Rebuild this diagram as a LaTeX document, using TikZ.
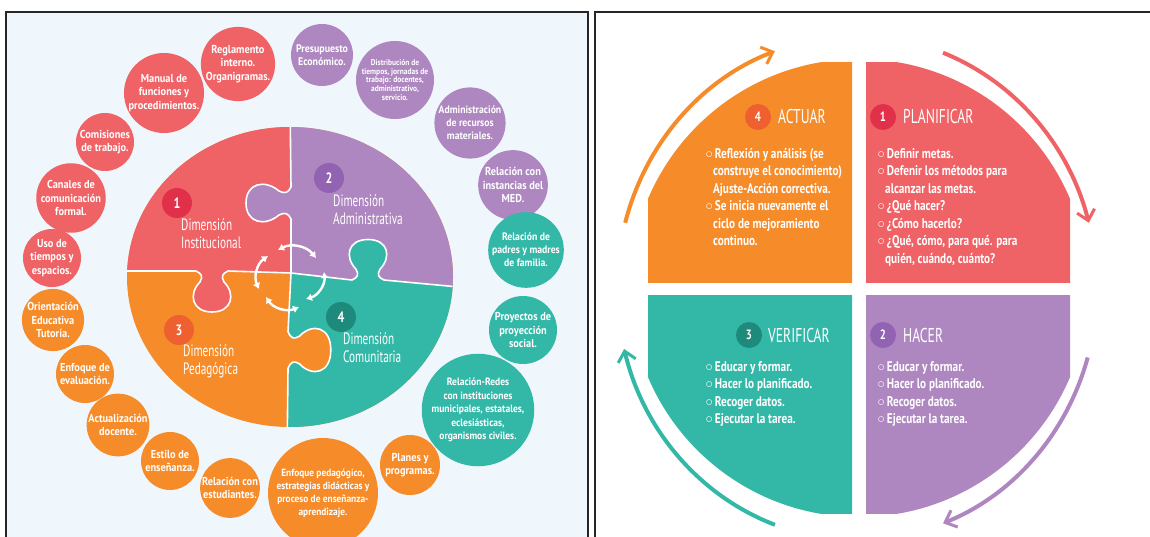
\documentclass[tikz,border=0pt]{standalone}
\usepackage{fontspec}
\setmainfont{PT Sans}[FakeStretch=0.8]
\newfontfamily\satf{PT Sans}[FakeStretch=0.9]
\newfontfamily\condf{PT Sans}[FakeStretch=0.68]
\newfontfamily\dejavu{DejaVu Sans}
\usetikzlibrary{arrows.meta,calc}
\definecolor{redC}{HTML}{EF6266}
\definecolor{purC}{HTML}{AE86C0}
\definecolor{oraC}{HTML}{F68B29}
\definecolor{teaC}{HTML}{33B8A8}
\definecolor{bgC}{HTML}{EFF6FC}
\definecolor{nA}{HTML}{E0304A}
\definecolor{nB}{HTML}{9263B2}
\definecolor{nC}{HTML}{EE6030}
\definecolor{nD}{HTML}{1E8A7B}
\newcommand{\bul}{\raisebox{-2.2pt}{\dejavu\bfseries\fontsize{16}{16}\selectfont\char"25E6}\hspace{0.5pt}}
\newcommand{\ind}{\hspace*{9pt}}
\tikzset{
  sat/.style={circle, inner sep=0pt, align=center, text=white, font=\satf\bfseries\fontsize{11.5}{13.3}\selectfont},
  numL/.style={circle, minimum size=30pt, inner sep=0pt, text=white, font=\bfseries\fontsize{15}{15}\selectfont},
  dimlab/.style={anchor=north west, inner sep=0pt, align=left, text=white, font=\condf\fontsize{16.5}{18.5}\selectfont},
  numR/.style={circle, minimum size=26pt, inner sep=0pt, text=white, font=\bfseries\fontsize{13.5}{13.5}\selectfont},
  ttl/.style={anchor=west, inner sep=0pt, text=white, font=\condf\fontsize{20}{20}\selectfont},
  blist/.style={anchor=north west, inner sep=0pt, align=left, text=white, font=\bfseries\fontsize{14}{17.5}\selectfont},
  cyc/.style={line width=4pt, -{Straight Barb[length=10pt,width=18pt,line width=3pt]}},
  dbl/.style={white, line width=2.4pt, {Latex[length=6pt,width=8pt]}-{Latex[length=6pt,width=8pt]}},
  edge/.style={white, line width=1.6pt}
}
\begin{document}
\begin{tikzpicture}[x=1pt,y=-1pt]
\useasboundingbox (0,0) rectangle (1150,537);
% ---------- left panel ----------
\fill[bgC] (6,12) rectangle (588,540);
\draw[line width=1.8pt, black!85] (6,545) -- (6,12) -- (588,12) -- (588,545);
\begin{scope}
\clip (290,277) ellipse [x radius=163pt, y radius=150pt];
\fill[oraC] (100,100) rectangle (480,460);
\fill[redC] (291,273) -- (291,219) .. controls (288,213) and (285,212) .. (279,215) .. controls (265,227) and (246,223) .. (246,203) .. controls (246,183) and (265,179) .. (279,191) .. controls (285,194) and (288,193) .. (291,187) -- (290,100) -- (100,100) -- (100,271) -- (196,271) .. controls (202,274) and (203,276) .. (200,282) .. controls (188,294) and (192,312) .. (212,312) .. controls (232,312) and (236,294) .. (224,282) .. controls (221,276) and (222,274) .. (228,271) -- cycle;
\fill[purC] (291,273) -- (291,219) .. controls (288,213) and (285,212) .. (279,215) .. controls (265,227) and (246,223) .. (246,203) .. controls (246,183) and (265,179) .. (279,191) .. controls (285,194) and (288,193) .. (291,187) -- (290,100) -- (480,100) -- (480,289) -- (384,280) .. controls (378,277.3) and (377,274.6) .. (380,269.2) .. controls (392,256.6) and (388,239.5) .. (368,239.5) .. controls (348,239.5) and (344,256.6) .. (356,269.2) .. controls (359,274.6) and (358,277.3) .. (352,280) -- cycle;
\fill[teaC] (291,273) -- (352,280) .. controls (358,277.3) and (359,274.6) .. (356,269.2) .. controls (344,256.6) and (348,239.5) .. (368,239.5) .. controls (388,239.5) and (392,256.6) .. (380,269.2) .. controls (377,274.6) and (378,277.3) .. (384,280) -- (480,289) -- (480,460) -- (287,460) -- (288,368.4) .. controls (290.9,361.5) and (293.7,360.4) .. (299.4,363.8) .. controls (312.7,377.6) and (330.8,373) .. (330.8,350) .. controls (330.8,327) and (312.7,322.4) .. (299.4,336.2) .. controls (293.7,339.6) and (290.9,338.5) .. (288,331.6) -- cycle;
\draw[edge] (291,273) -- (291,219) .. controls (288,213) and (285,212) .. (279,215) .. controls (265,227) and (246,223) .. (246,203) .. controls (246,183) and (265,179) .. (279,191) .. controls (285,194) and (288,193) .. (291,187) -- (290,100);
\draw[edge] (100,271) -- (196,271) .. controls (202,274) and (203,276) .. (200,282) .. controls (188,294) and (192,312) .. (212,312) .. controls (232,312) and (236,294) .. (224,282) .. controls (221,276) and (222,274) .. (228,271) -- (291,273);
\draw[edge] (291,273) -- (352,280) .. controls (358,277.3) and (359,274.6) .. (356,269.2) .. controls (344,256.6) and (348,239.5) .. (368,239.5) .. controls (388,239.5) and (392,256.6) .. (380,269.2) .. controls (377,274.6) and (378,277.3) .. (384,280) -- (480,289);
\draw[edge] (291,273) -- (288,331.6) .. controls (290.9,338.5) and (293.7,339.6) .. (299.4,336.2) .. controls (312.7,322.4) and (330.8,327) .. (330.8,350) .. controls (330.8,373) and (312.7,377.6) .. (299.4,363.8) .. controls (293.7,360.4) and (290.9,361.5) .. (288,368.4) -- (287,460);
\end{scope}
% center double arrows
\coordinate (a1) at (278,250); \coordinate (b1) at (316,258);
\coordinate (a2) at (268,256); \coordinate (b2) at (259,289);
\coordinate (a3) at (266,297); \coordinate (b3) at (299,307);
\coordinate (a4) at (324,272); \coordinate (b4) at (306,299);
\draw[dbl] (a1) to[bend left=40] (b1);
\draw[dbl] (a2) to[bend right=40] (b2);
\draw[dbl] (a3) to[bend right=40] (b3);
\draw[dbl] (a4) to[bend left=40] (b4);
% numbers and labels
\node[numL, fill=nA] (n1) at (177,203) {1};
\node[numL, fill=nB] (n2) at (329,178) {2};
\node[numL, fill=nC] (n3) at (179,330) {3};
\node[numL, fill=nD] (n4) at (341,317) {4};
\node[dimlab] (d1) at (181,218) {Dimensión\\Institucional};
\node[dimlab] (d2) at (333,194) {Dimensión\\Administrativa};
\node[dimlab] (d3) at (183,344) {Dimensión\\Pedagógica};
\node[dimlab] (d4) at (343,332) {Dimensión\\Comunitaria};
% satellites
\node[sat, fill=redC, minimum size=70pt] (s1) at (238,64) {Reglamento\\interno.\\Organigramas.};
\node[sat, fill=redC, minimum size=80pt] (s2) at (164,93) {Manual de\\funciones y\\procedimientos.};
\node[sat, fill=redC, minimum size=58pt] (s3) at (105,142) {Comisiones\\de trabajo.};
\node[sat, fill=redC, minimum size=64pt] (s4) at (71,198) {Canales de\\comunicación\\formal.};
\node[sat, fill=redC, minimum size=58pt] (s5) at (52,258) {Uso de\\tiempos y\\espacios.};
\node[sat, fill=oraC, minimum size=58pt] (s6) at (53,320) {Orientación\\Educativa\\Tutoría.};
\node[sat, fill=oraC, minimum size=58pt] (s7) at (85,374) {Enfoque de\\evaluación.};
\node[sat, fill=oraC, minimum size=58pt] (s8) at (118,425) {Actualización\\docente.};
\node[sat, fill=oraC, minimum size=58pt] (s9) at (170,461) {Estilo de\\enseñanza.};
\node[sat, fill=oraC, minimum size=58pt] (s10) at (230,488) {Relación con\\estudiantes.};
\node[sat, fill=oraC, minimum size=110pt, font=\satf\bfseries\fontsize{10.4}{13}\selectfont] (s11) at (323,493) {Enfoque pedagógico,\\estrategias didácticas y\\proceso de enseñanza-\\aprendizaje.};
\node[sat, fill=oraC, minimum size=60pt] (s12) at (410,465) {Planes y\\programas.};
\node[sat, fill=purC, minimum size=62pt, font=\satf\bfseries\fontsize{11}{13}\selectfont] (s13) at (322,55) {Presupuesto\\Económico.};
\node[sat, fill=purC, minimum size=78pt, font=\satf\bfseries\fontsize{8.3}{8.6}\selectfont] (s14) at (395,80) {Distribución de\\tiempos, jornadas de\\trabajo: docentes,\\administrativo,\\servicio.};
\node[sat, fill=purC, minimum size=66pt, font=\satf\bfseries\fontsize{10.8}{13}\selectfont] (s15) at (470,123) {Administración\\de recursos\\materiales.};
\node[sat, fill=purC, minimum size=64pt] (s16) at (513,185) {Relación con\\instancias del\\MED.};
\node[sat, fill=teaC, minimum size=68pt, font=\satf\bfseries\fontsize{10.8}{13}\selectfont] (s17) at (526,250) {Relación de\\padres y madres\\de familia.};
\node[sat, fill=teaC, minimum size=68pt] (s18) at (523,330) {Proyectos de\\proyección\\social.};
\node[sat, fill=teaC, minimum size=102pt, font=\satf\bfseries\fontsize{10.6}{13.5}\selectfont] (s19) at (478,410) {Relación-Redes\\con instituciones\\municipales, estatales,\\eclesiásticas,\\organismos civiles.};
% ---------- right panel ----------
\draw[line width=1.8pt, black!85] (595,545) -- (595,12) -- (1160,12);
\coordinate (rc) at (859,288);
\begin{scope}\clip (648,63) rectangle (852,282); \fill[oraC] (rc) circle[radius=229pt]; \end{scope}
\begin{scope}\clip (866,63) rectangle (1070,282); \fill[redC] (rc) circle[radius=229pt]; \end{scope}
\begin{scope}\clip (648,295) rectangle (852,513); \fill[teaC] (rc) circle[radius=229pt]; \end{scope}
\begin{scope}\clip (866,295) rectangle (1070,513); \fill[purC] (rc) circle[radius=229pt]; \end{scope}
\coordinate (ac) at (857,288);
\draw[cyc, oraC] ($(ac)+(165:240pt and 252pt)$) arc[start angle=165, end angle=110, x radius=240pt, y radius=252pt];
\draw[cyc, redC] ($(ac)+(69:240pt and 252pt)$) arc[start angle=69, end angle=15, x radius=240pt, y radius=252pt];
\draw[cyc, purC] ($(ac)+(-16:240pt and 252pt)$) arc[start angle=-16, end angle=-69, x radius=240pt, y radius=252pt];
\draw[cyc, teaC] ($(ac)+(-110:240pt and 252pt)$) arc[start angle=-110, end angle=-166, x radius=240pt, y radius=252pt];
\node[numR, fill=nC] (r4) at (758,117) {4};
\node[ttl] (t4) at (778,117) {ACTUAR};
\node[numR, fill=nA] (r1) at (883,117) {1};
\node[ttl] (t1) at (903,117) {PLANIFICAR};
\node[numR, fill=nD] (r3) at (749,335) {3};
\node[ttl] (t3) at (768,335) {VERIFICAR};
\node[numR, fill=nB] (r2) at (883,335) {2};
\node[ttl] (t2) at (903,335) {HACER};
\node[blist] (l4) at (704,148) {\bul Reflexión y análisis (se\\\ind construye el conocimiento)\\\ind Ajuste-Acción correctiva.\\\bul Se inicia nuevamente el\\\ind ciclo de mejoramiento\\\ind continuo.};
\node[blist] (l1) at (876,148) {\bul Definir metas.\\\bul Defenir los métodos para\\\ind alcanzar las metas.\\\bul ¿Qué hacer?\\\bul ¿Cómo hacerlo?\\\bul ¿Qué, cómo, para qué. para\\\ind quién, cuándo, cuánto?};
\node[blist] (l3) at (704,361) {\bul Educar y formar.\\\bul Hacer lo planificado.\\\bul Recoger datos.\\\bul Ejecutar la tarea.};
\node[blist] (l2) at (876,361) {\bul Educar y formar.\\\bul Hacer lo planificado.\\\bul Recoger datos.\\\bul Ejecutar la tarea.};
\end{tikzpicture}
\end{document}
